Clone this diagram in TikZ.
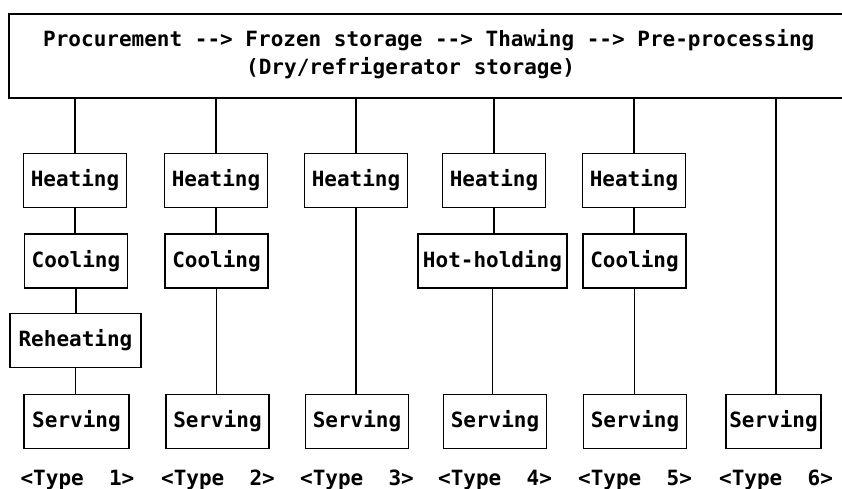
\documentclass[tikz,border=0pt]{standalone}
\usepackage{fontspec}
\setmonofont{DejaVu Sans Mono}
\begin{document}
\begin{tikzpicture}[x=1pt,y=-1pt,
  every node/.style={font=\ttfamily\bfseries\fontsize{21}{25}\selectfont},
  stepbox/.style={draw,line width=1.6pt,inner sep=0pt,minimum height=54pt,minimum width=103pt},
  conn/.style={line width=1.6pt},
  typelabel/.style={inner sep=0pt,anchor=base}]
\useasboundingbox (0,0) rectangle (842,489);
\fill[white] (0,0) rectangle (842,489);
% top box
\node[draw,line width=1.6pt,inner sep=0pt,minimum width=840pt,minimum height=84pt,anchor=north west] (top) at (8,13) {};
\node[inner sep=0pt,anchor=base west] (l1) at (43,47) {Procurement -{}-> Frozen storage -{}-> Thawing -{}-> Pre-processing};
\node[inner sep=0pt,anchor=base west] (l2) at (246,75) {(Dry/refrigerator storage)};
% Type 1
\node[stepbox] (h1) at (75,180.5) {Heating};
\node[stepbox] (c1) at (76,261) {Cooling};
\node[stepbox,minimum width=131pt] (r1) at (75.5,340.5) {Reheating};
\node[stepbox,minimum width=105pt] (s1) at (76.5,421.5) {Serving};
% Type 2
\node[stepbox] (h2) at (216,180.5) {Heating};
\node[stepbox] (c2) at (216.5,261) {Cooling};
\node[stepbox] (s2) at (217.5,421.5) {Serving};
% Type 3
\node[stepbox] (h3) at (356,180.5) {Heating};
\node[stepbox] (s3) at (357,421.5) {Serving};
% Type 4
\node[stepbox] (h4) at (494,180.5) {Heating};
\node[stepbox,minimum width=149pt] (k4) at (492.5,261) {Hot-holding};
\node[stepbox] (s4) at (495,421.5) {Serving};
% Type 5
\node[stepbox] (h5) at (634,180.5) {Heating};
\node[stepbox] (c5) at (634.5,261) {Cooling};
\node[stepbox] (s5) at (635,421.5) {Serving};
% Type 6
\node[stepbox,minimum width=95pt] (s6) at (773.5,421.5) {Serving};
% connectors
\draw[conn] (top.south -| h1.north) -- (h1.north);
\draw[conn] (h1.south) -- (h1.south |- c1.north);
\draw[conn] (c1.south) -- (c1.south |- r1.north);
\draw[conn] (r1.south) -- (r1.south |- s1.north);
\draw[conn] (top.south -| h2.north) -- (h2.north);
\draw[conn] (h2.south) -- (h2.south |- c2.north);
\draw[conn] (c2.south) -- (c2.south |- s2.north);
\draw[conn] (top.south -| h3.north) -- (h3.north);
\draw[conn] (h3.south) -- (h3.south |- s3.north);
\draw[conn] (top.south -| h4.north) -- (h4.north);
\draw[conn] (h4.south) -- (h4.south |- k4.north);
\draw[conn] (k4.south) -- (k4.south |- s4.north);
\draw[conn] (top.south -| h5.north) -- (h5.north);
\draw[conn] (h5.south) -- (h5.south |- c5.north);
\draw[conn] (c5.south) -- (c5.south |- s5.north);
\draw[conn] (top.south -| 776,0) -- (776,394.5) coordinate (e6);
% labels
\node[typelabel] (t1) at (77.5,485) {<Type\ \ 1>};
\node[typelabel] (t2) at (218,485) {<Type\ \ 2>};
\node[typelabel] (t3) at (357,485) {<Type\ \ 3>};
\node[typelabel] (t4) at (495,485) {<Type\ \ 4>};
\node[typelabel] (t5) at (635,485) {<Type\ \ 5>};
\node[typelabel] (t6) at (776,485) {<Type\ \ 6>};
\end{tikzpicture}
\end{document}
